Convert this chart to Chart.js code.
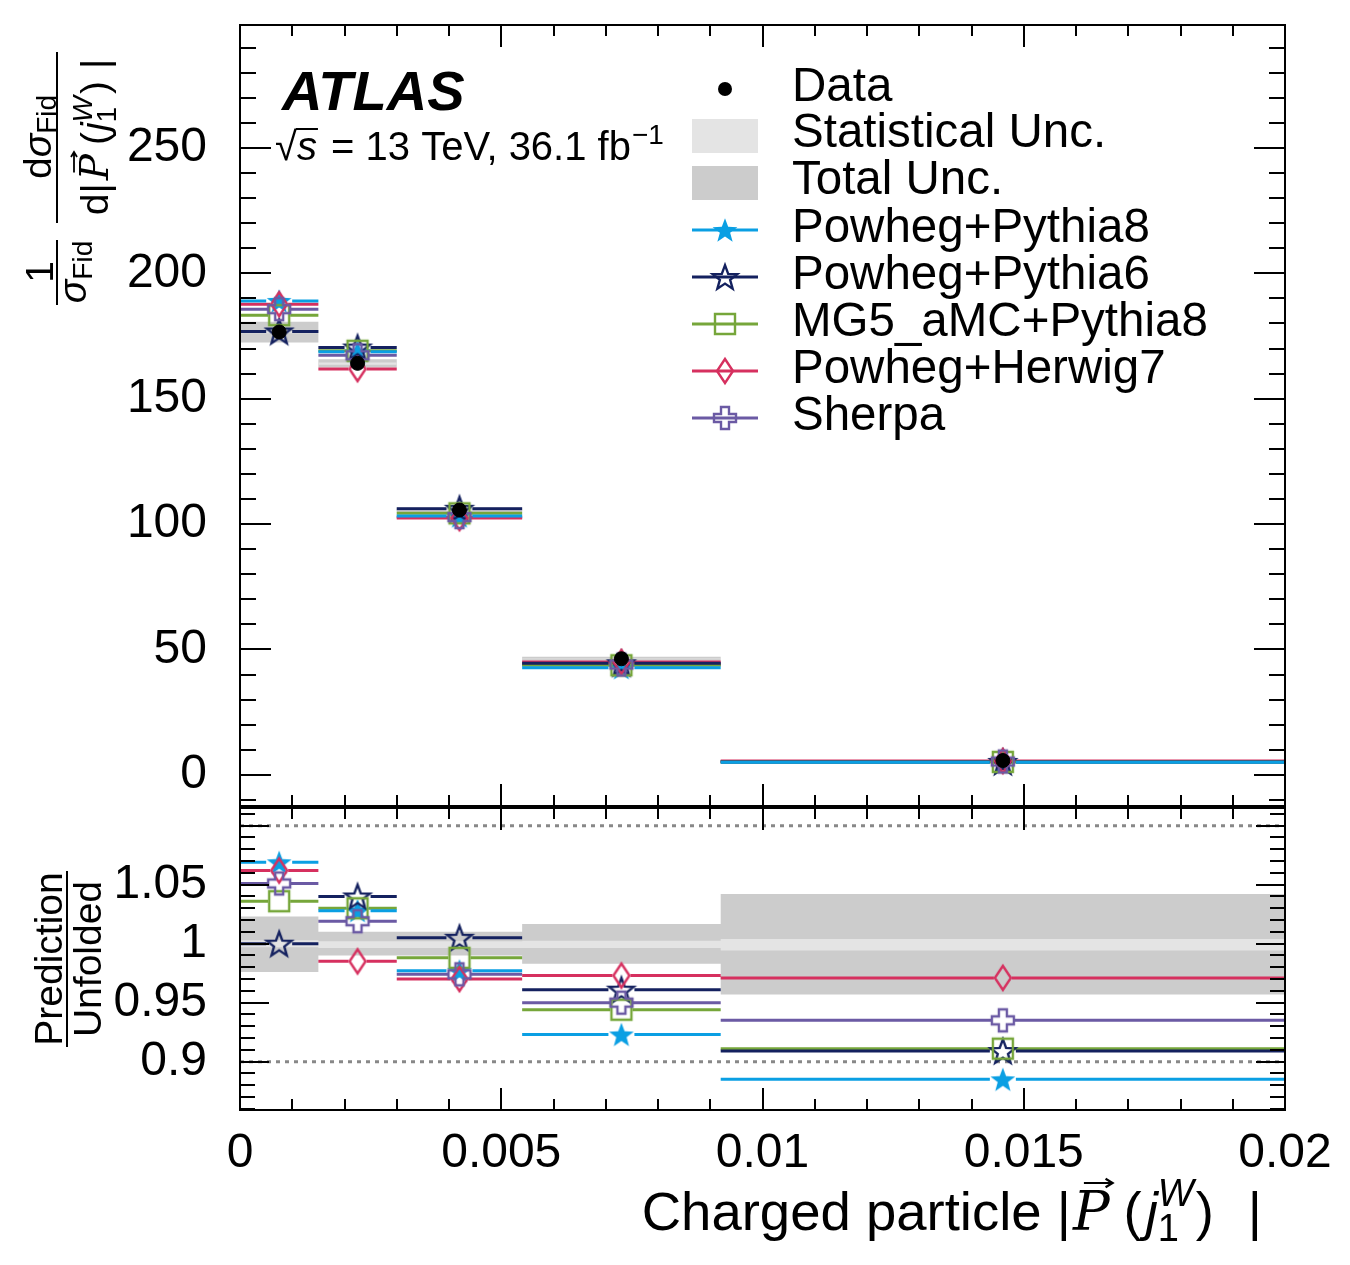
<!DOCTYPE html>
<html>
<head>
<meta charset="utf-8">
<script src="https://cdn.jsdelivr.net/npm/chart.js@4.4.0/dist/chart.umd.min.js"></script>
<style>
  body { margin: 0; background: #fff; }
  #wrap { position: relative; width: 1350px; height: 1265px; background: #fff; }
  canvas { position: absolute; left: 0; }
  #top { top: 0; }
  #ratio { top: 806px; }
</style>
</head>
<body>
<div id="wrap">
  <canvas id="top" width="1350" height="808"></canvas>
  <canvas id="ratio" width="1350" height="459"></canvas>
</div>
<script>
// bins and tick labels
const binEdges = [0, 0.0015, 0.003, 0.0054, 0.0092, 0.02];
const xTickLabels = [0, 0.005, 0.01, 0.015, 0.02];
const yTickLabels = [0, 50, 100, 150, 200, 250];
const ratioTickLabels = [0.9, 0.95, 1, 1.05];
const refLines = [1.1, 0.9];

// unfolded data and relative uncertainties
const dataValues = [176.6, 164.1, 105.6, 46.3, 5.7];
const statUp = [0.003, 0.002, 0.002, 0.0025, 0.004];
const statDn = [0.003, 0.0036, 0.0036, 0.0036, 0.0057];
const totUp = [0.023, 0.010, 0.010, 0.0167, 0.042];
const totDn = [0.024, 0.010, 0.010, 0.017, 0.043];

// predictions, main panel
const p8Top = [189.0, 168.7, 103.2, 42.7, 5.05];
const p6Top = [176.8, 170.4, 106.1, 44.5, 5.18];
const mg5Top = [183.3, 169.1, 104.3, 43.7, 5.19];
const h7Top = [187.7, 161.8, 102.4, 45.0, 5.53];
const sherpaTop = [185.7, 167.3, 102.8, 44.0, 5.33];

// predictions / unfolded
const p8Ratio = [1.069, 1.028, 0.977, 0.923, 0.885];
const p6Ratio = [1.000, 1.040, 1.005, 0.961, 0.909];
const mg5Ratio = [1.036, 1.030, 0.988, 0.944, 0.911];
const h7Ratio = [1.062, 0.985, 0.970, 0.973, 0.971];
const sherpaRatio = [1.051, 1.019, 0.974, 0.950, 0.935];

const STAT_COL = '#e4e4e4';
const TOT_COL = '#cccccc';
const FONT = '"Liberation Sans", Arial, sans-serif';
const PLOT_W = 1045;
const RATIO_TOP = 806;

function makeMarker(kind, color) {
  const c = document.createElement('canvas');
  c.width = 34; c.height = 34;
  const g = c.getContext('2d');
  g.translate(17, 17);
  g.strokeStyle = color; g.fillStyle = color; g.lineWidth = 2.4;
  g.beginPath();
  if (kind === 'star' || kind === 'openStar') {
    for (let i = 0; i < 10; i++) {
      const r = i % 2 ? 5.4 : 13;
      const a = -Math.PI / 2 + i * Math.PI / 5;
      g.lineTo(r * Math.cos(a), r * Math.sin(a) + 1.2);
    }
    g.closePath();
  } else if (kind === 'square') {
    g.rect(-10, -10, 20, 20);
  } else if (kind === 'diamond') {
    g.moveTo(0, -12); g.lineTo(8, 0); g.lineTo(0, 12); g.lineTo(-8, 0); g.closePath();
  } else if (kind === 'cross') {
    const a = 11, b = 4;
    [[-b, -a], [b, -a], [b, -b], [a, -b], [a, b], [b, b], [b, a], [-b, a], [-b, b], [-a, b], [-a, -b], [-b, -b]]
      .forEach(p => g.lineTo(p[0], p[1]));
    g.closePath();
  }
  if (kind === 'star') g.fill(); else g.stroke();
  return c;
}

const models = [
  { name: 'Powheg+Pythia8', color: '#0a9fe3', kind: 'star', top: p8Top, ratio: p8Ratio, gap: 13 },
  { name: 'Powheg+Pythia6', color: '#14215f', kind: 'openStar', top: p6Top, ratio: p6Ratio, gap: 13 },
  { name: 'MG5_aMC+Pythia8', color: '#76a63a', kind: 'square', top: mg5Top, ratio: mg5Ratio, gap: 11 },
  { name: 'Powheg+Herwig7', color: '#d6305f', kind: 'diamond', top: h7Top, ratio: h7Ratio, gap: 9 },
  { name: 'Sherpa', color: '#6b5aa4', kind: 'cross', top: sherpaTop, ratio: sherpaRatio, gap: 11 }
];
models.forEach(m => { m.marker = makeMarker(m.kind, m.color); });

const binCenters = binEdges.slice(1).map((e, i) => (binEdges[i] + e) / 2);

// horizontal bin lines, broken around the marker
function segPoints(vals, gapPx) {
  const g = gapPx * (binEdges[binEdges.length - 1] - binEdges[0]) / PLOT_W;
  const pts = [];
  vals.forEach((v, i) => {
    const lo = binEdges[i], hi = binEdges[i + 1], c = binCenters[i];
    pts.push({ x: lo, y: v }, { x: c - g, y: v }, { x: c, y: null },
             { x: c + g, y: v }, { x: hi, y: v }, { x: hi, y: null });
  });
  return pts;
}
function stepPoints(vals) {
  const pts = vals.map((v, i) => ({ x: binEdges[i], y: v }));
  pts.push({ x: binEdges[binEdges.length - 1], y: vals[vals.length - 1] });
  return pts;
}

function bandSets(up, dn, color, order) {
  return [
    { data: stepPoints(up), stepped: true, borderWidth: 0, borderColor: 'rgba(0,0,0,0)', pointRadius: 0, fill: false, order: order },
    { data: stepPoints(dn), stepped: true, borderWidth: 0, borderColor: 'rgba(0,0,0,0)', pointRadius: 0, fill: '-1', backgroundColor: color, order: order }
  ];
}

function modelSets(key) {
  const sets = [];
  models.forEach((m, i) => {
    sets.push({
      data: binCenters.map((c, j) => ({ x: c, y: m[key][j] })),
      showLine: false, pointStyle: m.marker, pointRadius: 12, order: 5 - i
    });
  });
  models.forEach((m, i) => {
    sets.push({
      data: segPoints(m[key], m.gap), borderColor: m.color, borderWidth: 3,
      pointRadius: 0, spanGaps: false, fill: false, order: 10 + i
    });
  });
  return sets;
}

// no automatic label padding: the plot area is fixed by the layout padding
function fixAxis(size) {
  return s => {
    if (s.isHorizontal()) s.height = size; else s.width = size;
    s.paddingTop = 0; s.paddingBottom = 0; s.paddingLeft = 0; s.paddingRight = 0;
  };
}

// frame and inward ticks on all four sides
const frameTicks = {
  id: 'frameTicks',
  afterDatasetsDraw(chart, args, opts) {
    const { ctx, chartArea: a, scales } = chart;
    ctx.save();
    ctx.strokeStyle = '#000';
    ctx.lineWidth = 2;
    ctx.strokeRect(a.left, a.top, a.right - a.left, a.bottom - a.top);
    ctx.beginPath();
    const xs = scales.x, ys = scales.y, tx = opts.x, ty = opts.y;
    for (let k = Math.ceil(xs.min / tx.step - 1e-6); k * tx.step <= xs.max + 1e-9; k++) {
      const px = Math.round(xs.getPixelForValue(k * tx.step));
      const len = k % tx.every === 0 ? tx.major : tx.minor;
      ctx.moveTo(px, a.bottom); ctx.lineTo(px, a.bottom - len);
      ctx.moveTo(px, a.top); ctx.lineTo(px, a.top + len);
    }
    for (let k = Math.ceil(ys.min / ty.step - 1e-6); k * ty.step <= ys.max + 1e-9; k++) {
      const py = Math.round(ys.getPixelForValue(k * ty.step));
      const len = k % ty.every === 0 ? ty.major : ty.minor;
      ctx.moveTo(a.left, py); ctx.lineTo(a.left + len, py);
      ctx.moveTo(a.right, py); ctx.lineTo(a.right - len, py);
    }
    ctx.stroke();
    ctx.restore();
  }
};

// text helpers
function measureRun(ctx, r) {
  if (r.stack) return Math.max(...r.stack.map(s => { ctx.font = s.font; return ctx.measureText(s.t).width; })) + (r.kern || 0);
  ctx.font = r.font;
  return ctx.measureText(r.t).width + (r.kern || 0);
}
function drawArrow(ctx, x0, x1, y, s) {
  ctx.beginPath();
  ctx.moveTo(x0, y); ctx.lineTo(x1, y);
  ctx.moveTo(x1 - s, y - s * 0.6); ctx.lineTo(x1, y); ctx.lineTo(x1 - s, y + s * 0.6);
  ctx.stroke();
}
function drawRuns(ctx, runs, x, y, align) {
  const widths = runs.map(r => measureRun(ctx, r));
  const total = widths.reduce((s, w) => s + w, 0);
  let cx = align === 'center' ? x - total / 2 : align === 'right' ? x - total : x;
  ctx.textAlign = 'left';
  ctx.textBaseline = 'alphabetic';
  runs.forEach((r, i) => {
    if (r.stack) {
      r.stack.forEach(s => { ctx.font = s.font; ctx.fillText(s.t, cx + (s.dx || 0), y + (s.dy || 0)); });
    } else {
      ctx.font = r.font;
      ctx.fillText(r.t, cx, y + (r.dy || 0));
      const w = widths[i] - (r.kern || 0);
      if (r.arrow) {
        ctx.lineWidth = r.arrow.lw;
        drawArrow(ctx, cx + w * 0.3, cx + w + r.arrow.dx, y - r.arrow.h, r.arrow.s);
      }
      if (r.over) {
        ctx.lineWidth = 2;
        ctx.beginPath(); ctx.moveTo(cx - 1, y - r.over); ctx.lineTo(cx + w + 1, y - r.over); ctx.stroke();
      }
    }
    cx += widths[i];
  });
}

const topText = {
  id: 'topText',
  afterDraw(chart) {
    const ctx = chart.ctx;
    ctx.save();
    ctx.fillStyle = '#000';
    ctx.strokeStyle = '#000';

    ctx.font = 'italic bold 56px ' + FONT;
    ctx.textBaseline = 'alphabetic';
    ctx.fillText('ATLAS', 282, 110);

    drawRuns(ctx, [
      { t: '\u221A', font: '40px ' + FONT },
      { t: 's', font: 'italic 40px ' + FONT, over: 31, kern: 3 },
      { t: ' = 13 TeV, 36.1 fb', font: '40px ' + FONT, kern: 1 },
      { t: '\u22121', font: '28px ' + FONT, dy: -16 }
    ], 275, 160, 'left');

    // legend
    const tx = 792, lx0 = 692, lx1 = 758, mx = 725;
    const LF = '47.5px ' + FONT;
    ctx.font = LF;
    ctx.textAlign = 'left';
    ctx.fillText('Data', tx, 101);
    ctx.beginPath(); ctx.arc(mx, 89, 7, 0, Math.PI * 2); ctx.fill();
    ctx.fillText('Statistical Unc.', tx, 147);
    ctx.fillStyle = STAT_COL; ctx.fillRect(lx0, 119, lx1 - lx0, 34);
    ctx.fillStyle = '#000';
    ctx.fillText('Total Unc.', tx, 194);
    ctx.fillStyle = TOT_COL; ctx.fillRect(lx0, 166, lx1 - lx0, 34);
    ctx.fillStyle = '#000';
    models.forEach((m, i) => {
      const yb = 242 + i * 47, ym = yb - 12;
      ctx.font = LF;
      ctx.fillStyle = '#000';
      ctx.fillText(m.name, tx, yb);
      ctx.strokeStyle = m.color; ctx.lineWidth = 3;
      ctx.beginPath(); ctx.moveTo(lx0, ym); ctx.lineTo(lx1, ym); ctx.stroke();
      ctx.drawImage(m.marker, mx - 17, ym - 17);
    });

    // rotated y title
    ctx.fillStyle = '#000'; ctx.strokeStyle = '#000';
    ctx.rotate(-Math.PI / 2);
    const F = '39px ' + FONT, I = 'italic 39px ' + FONT, S = '28px ' + FONT, SI = 'italic 28px ' + FONT;
    drawRuns(ctx, [{ t: '1', font: F }], -272, 53, 'center');
    drawRuns(ctx, [{ t: '\u03C3', font: I }, { t: 'Fid', font: S, dy: 6 }], -272, 86, 'center');
    drawRuns(ctx, [{ t: 'd', font: F }, { t: '\u03C3', font: I }, { t: 'Fid', font: S, dy: 5 }], -137, 51, 'center');
    drawRuns(ctx, [
      { t: 'd|', font: F, kern: 3 },
      { t: 'P', font: 'italic 39px "DejaVu Serif"', arrow: { h: 34, dx: 2, s: 5, lw: 1.8 }, kern: 9 },
      { t: '(', font: F, kern: 1 },
      { t: 'j', font: I },
      { stack: [{ t: 'W', font: SI, dy: -16 }, { t: '1', font: S, dy: 8 }], kern: 2 },
      { t: ')', font: F, kern: 12 },
      { t: '|', font: F }
    ], -137, 108, 'center');
    ctx.lineWidth = 2;
    ctx.beginPath();
    ctx.moveTo(-305, 57); ctx.lineTo(-240, 57);
    ctx.moveTo(-223, 57); ctx.lineTo(-52, 57);
    ctx.stroke();
    ctx.restore();
  }
};

const ratioText = {
  id: 'ratioText',
  afterDraw(chart) {
    const ctx = chart.ctx;
    ctx.save();
    ctx.fillStyle = '#000'; ctx.strokeStyle = '#000';
    const F = '54.5px ' + FONT;
    drawRuns(ctx, [
      { t: 'Charged particle |', font: F, kern: 2 },
      { t: 'P', font: 'italic 54.5px "DejaVu Serif"', arrow: { h: 47, dx: 3, s: 7, lw: 2.2 }, kern: 14 },
      { t: '(', font: F, kern: 4 },
      { t: 'j', font: 'italic 54.5px ' + FONT },
      { stack: [{ t: 'W', font: 'italic 38px ' + FONT, dy: -24 }, { t: '1', font: '38px ' + FONT, dy: 11 }], kern: 2 },
      { t: ')', font: F, kern: 34 },
      { t: '|', font: F }
    ], 1262, 1230 - RATIO_TOP, 'right');

    ctx.rotate(-Math.PI / 2);
    const cy = 959 - RATIO_TOP;
    drawRuns(ctx, [{ t: 'Prediction', font: '39px ' + FONT }], -cy, 62, 'center');
    drawRuns(ctx, [{ t: 'Unfolded', font: '39px ' + FONT }], -cy, 101, 'center');
    ctx.lineWidth = 2;
    ctx.beginPath(); ctx.moveTo(-cy - 88, 67); ctx.lineTo(-cy + 88, 67); ctx.stroke();
    ctx.restore();
  }
};

// main panel
const topSets = [
  { data: binCenters.map((c, j) => ({ x: c, y: dataValues[j] })), showLine: false,
    pointStyle: 'circle', pointRadius: 7, backgroundColor: '#000', borderColor: '#000', order: 0 }
].concat(modelSets('top'))
 .concat(bandSets(dataValues.map((v, i) => v * (1 + statUp[i])), dataValues.map((v, i) => v * (1 - statDn[i])), STAT_COL, 30))
 .concat(bandSets(dataValues.map((v, i) => v * (1 + totUp[i])), dataValues.map((v, i) => v * (1 - totDn[i])), TOT_COL, 40));

new Chart(document.getElementById('top'), {
  type: 'line',
  data: { datasets: topSets },
  options: {
    responsive: false,
    animation: false,
    devicePixelRatio: 1,
    layout: { autoPadding: false, padding: { top: 25, right: 65, bottom: 2, left: 0 } },
    plugins: {
      legend: { display: false },
      tooltip: { enabled: false },
      frameTicks: { x: { step: 0.001, every: 5, major: 22, minor: 11 }, y: { step: 10, every: 5, major: 31, minor: 16 } }
    },
    scales: {
      x: { type: 'linear', min: binEdges[0], max: binEdges[binEdges.length - 1], display: false },
      y: {
        type: 'linear', min: -12.4, max: 299,
        afterFit: fixAxis(240),
        afterBuildTicks: s => { s.ticks = yTickLabels.map(v => ({ value: v })); },
        grid: { display: false }, border: { display: false },
        ticks: { padding: 25, color: '#000', font: { family: FONT, size: 48 }, callback: v => String(v) }
      }
    }
  },
  plugins: [frameTicks, topText]
});

// ratio panel
const ratioSets = modelSets('ratio')
  .concat(refLines.map(r => ({
    data: [{ x: binEdges[0], y: r }, { x: binEdges[binEdges.length - 1], y: r }],
    borderColor: '#888888', borderWidth: 3, borderDash: [4, 5], pointRadius: 0, fill: false, order: 20
  })))
  .concat(bandSets(statUp.map(v => 1 + v), statDn.map(v => 1 - v), STAT_COL, 30))
  .concat(bandSets(totUp.map(v => 1 + v), totDn.map(v => 1 - v), TOT_COL, 40));

new Chart(document.getElementById('ratio'), {
  type: 'line',
  data: { datasets: ratioSets },
  options: {
    responsive: false,
    animation: false,
    devicePixelRatio: 1,
    layout: { autoPadding: false, padding: { top: 2, right: 65, bottom: 0, left: 0 } },
    plugins: {
      legend: { display: false },
      tooltip: { enabled: false },
      frameTicks: { x: { step: 0.001, every: 5, major: 22, minor: 11 }, y: { step: 0.01, every: 5, major: 29, minor: 15 } }
    },
    scales: {
      x: {
        type: 'linear', min: binEdges[0], max: binEdges[binEdges.length - 1],
        afterFit: fixAxis(155),
        afterBuildTicks: s => { s.ticks = xTickLabels.map(v => ({ value: v })); },
        grid: { display: false }, border: { display: false },
        ticks: { padding: 7, maxRotation: 0, color: '#000', font: { family: FONT, size: 48 }, callback: v => String(v) }
      },
      y: {
        type: 'linear', min: 0.859, max: 1.115,
        afterFit: fixAxis(240),
        afterBuildTicks: s => { s.ticks = ratioTickLabels.map(v => ({ value: v })); },
        grid: { display: false }, border: { display: false },
        ticks: { padding: 25, color: '#000', font: { family: FONT, size: 48 }, callback: v => String(v) }
      }
    }
  },
  plugins: [frameTicks, ratioText]
});
</script>
</body>
</html>
